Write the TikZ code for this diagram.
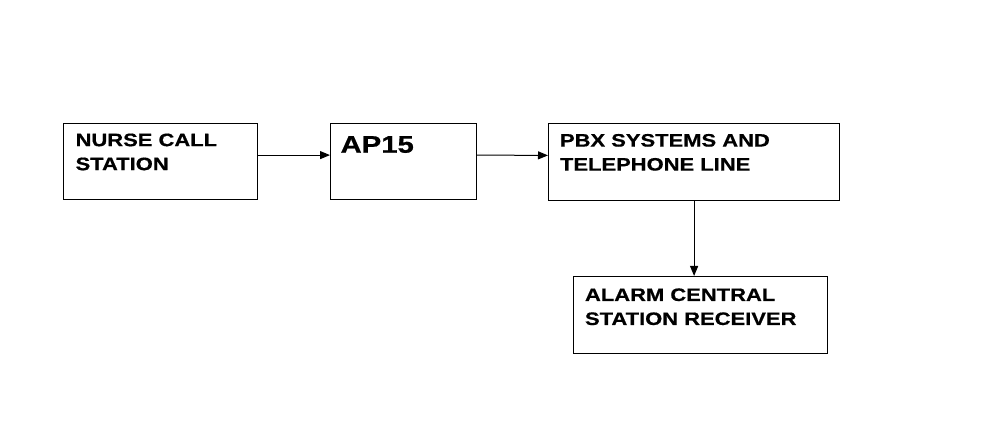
\documentclass[tikz,border=0pt]{standalone}
\usepackage{fontspec}
\setmainfont{Liberation Sans}[BoldFeatures={FakeStretch=1.22,FakeBold=0.6}]
\usetikzlibrary{arrows.meta}
\tikzset{
  blk/.style={draw, line width=0.6pt, anchor=north west, inner xsep=5.7pt, inner ysep=5.2pt,
    font=\bfseries\fontsize{9}{12}\selectfont},
  link/.style={line width=0.5pt, -{Triangle[length=5pt,width=4pt]}}
}
\begin{document}
\begin{tikzpicture}[x=0.5pt,y=-0.5pt]
      \useasboundingbox (0,0) rectangle (1003,437);
      \node[blk, inner xsep=6pt, inner ysep=5pt] (nurse) at (63,123)
        {\parbox[t][28pt][t]{85pt}{NURSE CALL\\STATION}};
      \node[blk, inner xsep=5pt, inner ysep=6.3pt, font=\bfseries\fontsize{12}{14}\selectfont] (ap) at (330,123)
        {\parbox[t][25.4pt][t]{63pt}{AP15}};
      \node[blk] (pbx) at (548,123)
        {\parbox[t][27.9pt][t]{134.1pt}{PBX SYSTEMS AND\\TELEPHONE LINE}};
      \node[blk, inner ysep=5.9pt] (alarm) at (573,276)
        {\parbox[t][26.8pt][t]{115.6pt}{ALARM CENTRAL\\STATION RECEIVER}};
      \begin{scope}[link]
        \draw ([yshift=3.25pt]nurse.east) to ([yshift=3.25pt]ap.west);
        \draw ([yshift=3.25pt]ap.east) to ([yshift=3.25pt]pbx.west);
        \draw (pbx.south) to (pbx.south |- alarm.north);
      \end{scope}
    \end{tikzpicture}
\end{document}
